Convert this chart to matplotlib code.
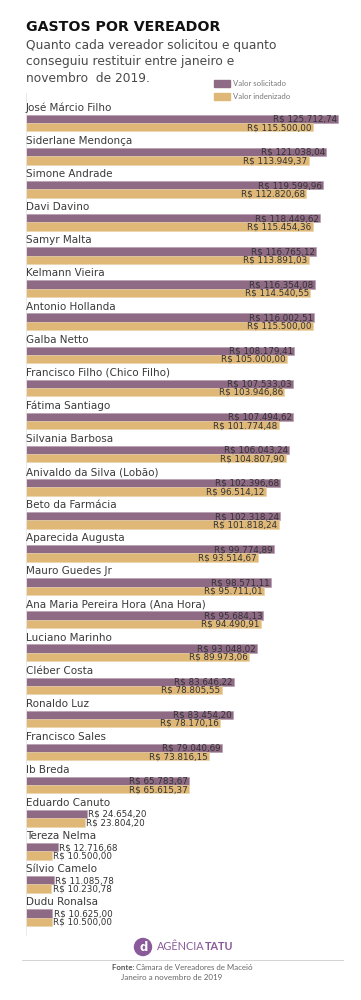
import numpy as np
import matplotlib
matplotlib.use("Agg")
import matplotlib.pyplot as plt
from matplotlib.patches import Ellipse

# ---------------------------------------------------------------------------
# Data
# ---------------------------------------------------------------------------

vereadores = [
    "José Márcio Filho", "Siderlane Mendonça", "Simone Andrade", "Davi Davino",
    "Samyr Malta", "Kelmann Vieira", "Antonio Hollanda", "Galba Netto",
    "Francisco Filho (Chico Filho)", "Fátima Santiago", "Silvania Barbosa",
    "Anivaldo da Silva (Lobão)", "Beto da Farmácia", "Aparecida Augusta",
    "Mauro Guedes Jr", "Ana Maria Pereira Hora (Ana Hora)", "Luciano Marinho",
    "Cléber Costa", "Ronaldo Luz", "Francisco Sales", "Ib Breda",
    "Eduardo Canuto", "Tereza Nelma", "Sílvio Camelo", "Dudu Ronalsa",
]
solicitado = [
    125712.74, 121038.04, 119599.96, 118449.62, 116765.12, 116354.08,
    116002.51, 108179.41, 107533.03, 107494.62, 106043.24, 102396.68,
    102318.24, 99774.89, 98571.11, 95684.13, 93048.02, 83646.22, 83454.20,
    79040.69, 65783.67, 24654.20, 12716.68, 11085.78, 10625.00,
]
indenizado = [
    115500.00, 113949.37, 112820.68, 115454.36, 113891.03, 114540.55,
    115500.00, 105000.00, 103946.86, 101774.48, 104807.90, 96514.12,
    101818.24, 93514.67, 95711.01, 94490.91, 89973.06, 78805.55, 78170.16,
    73816.15, 65615.37, 23804.20, 10500.00, 10230.78, 10500.00,
]

COR_SOL = "#8e6a84"
COR_IND = "#dfb877"
TXT = "#333333"

W, H = 361, 1000


def brl(v):
    s = f"{v:,.2f}".replace(",", "X").replace(".", ",").replace("X", ".")
    return "R$ " + s


fig = plt.figure(figsize=(W / 100, H / 100), dpi=100)
fig.patch.set_facecolor("white")

# axes placed in pixel coordinates: x=0 at px 26, top px 93, bottom px 935
px_per_unit = 33.1
ax_left, ax_top, ax_bottom = 26, 93, 935
ax_w = 340 - ax_left
ax = fig.add_axes([ax_left / W, 1 - ax_bottom / H, ax_w / W, (ax_bottom - ax_top) / H])
xmax = ax_w / (312 / 125712.74)
ax.set_xlim(0, xmax)
ax.set_ylim((ax_bottom - ax_top) / px_per_unit, 0)

n = len(vereadores)
y_nome = 15 / px_per_unit + np.arange(n)
y_sol = y_nome + 11 / px_per_unit
y_ind = y_nome + 19.3 / px_per_unit
bh = 8.3 / px_per_unit

ax.barh(y_sol, solicitado, height=bh, color=COR_SOL, edgecolor="#b49aac", linewidth=0.4)
ax.barh(y_ind, indenizado, height=bh, color=COR_IND, edgecolor="#ead3a8", linewidth=0.4)

pad = xmax * 0.004
for i in range(n):
    ax.text(0, y_nome[i], vereadores[i], ha="left", va="center",
            fontsize=7.5, color="#3a3a3a")
    for y, v in ((y_sol[i], solicitado[i]), (y_ind[i], indenizado[i])):
        if v > 40000:
            ax.text(v - pad, y + 0.01, brl(v), ha="right", va="center",
                    fontsize=6.3, color=TXT)
        else:
            ax.text(v + pad, y + 0.01, brl(v), ha="left", va="center",
                    fontsize=6.3, color=TXT)

for s in ("top", "right", "bottom"):
    ax.spines[s].set_visible(False)
ax.spines["left"].set_color("#e6e6e6")
ax.spines["left"].set_linewidth(0.6)
ax.set_xticks([])
ax.set_yticks([])
ax.patch.set_alpha(0)

# ---------------------------------------------------------------------------
# Header
# ---------------------------------------------------------------------------

fig.text(26 / W, 1 - 27 / H, "GASTOS POR VEREADOR", ha="left", va="center",
         fontsize=10.2, fontweight="bold", color="#111111")
for k, linha in enumerate(["Quanto cada vereador solicitou e quanto",
                           "conseguiu restituir entre janeiro e",
                           "novembro  de 2019."]):
    fig.text(26 / W, 1 - (46 + 16 * k) / H, linha, ha="left", va="center",
             fontsize=8.8, color="#4a4a4a")

# legend
fig.patches.append(plt.Rectangle((214 / W, 1 - 87 / H), 16 / W, 7 / H,
                                 transform=fig.transFigure, color=COR_SOL))
fig.patches.append(plt.Rectangle((214 / W, 1 - 100 / H), 16 / W, 7 / H,
                                 transform=fig.transFigure, color=COR_IND))
fig.text(233 / W, 1 - 83.5 / H, "Valor solicitado", ha="left", va="center",
         fontsize=5.6, color="#777777", fontfamily="Lato")
fig.text(233 / W, 1 - 96.5 / H, "Valor indenizado", ha="left", va="center",
         fontsize=5.6, color="#777777", fontfamily="Lato")

# ---------------------------------------------------------------------------
# Footer
# ---------------------------------------------------------------------------

logo = "#8a5a9a"
fig.patches.append(Ellipse((143 / W, 1 - 947 / H), 17 / W, 17 / H,
                           transform=fig.transFigure, color=logo))
fig.text(143.5 / W, 1 - 947.5 / H, "d", ha="center", va="center", fontsize=8.5,
         fontweight="bold", color="white")
t1 = fig.text(157 / W, 1 - 947 / H, "AGÊNCIA", ha="left", va="center",
              fontsize=7.8, color=logo, fontfamily="Lato")
fig.add_artist(plt.Annotation("TATU", xy=(1, 0.5), xycoords=t1, va="center",
                              ha="left", fontsize=7.8, color=logo,
                              fontweight="bold", fontfamily="Lato"))

fig.add_artist(plt.Line2D([22 / W, 343 / W], [1 - 960 / H, 1 - 960 / H],
                          color="#cccccc", linewidth=0.6))
f1 = fig.text(112 / W, 1 - 967 / H, "Fonte: ", ha="left", va="center",
              fontsize=5.7, fontweight="bold", color="#555555", fontfamily="Lato")
fig.add_artist(plt.Annotation("Câmara de Vereadores de Maceió", xy=(1, 0.5),
                              xycoords=f1, ha="left", va="center",
                              fontsize=5.7, color="#666666", fontfamily="Lato"))
fig.text(172 / W, 1 - 978 / H, "Janeiro a novembro de 2019", ha="center",
         va="center", fontsize=5.8, color="#666666", fontfamily="Lato")

fig.savefig("out.png", dpi=100, facecolor="white")
